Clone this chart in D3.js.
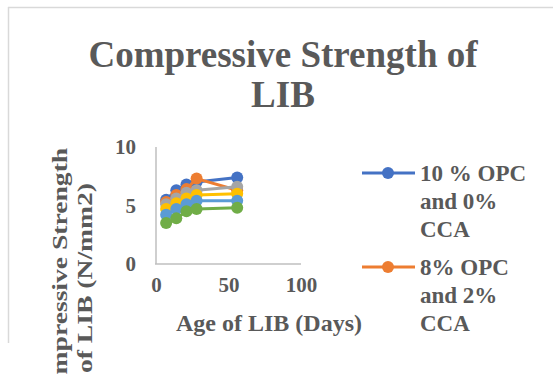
<!DOCTYPE html>
<html><head><meta charset="utf-8">
<script src="https://cdn.jsdelivr.net/npm/d3@7"></script>
<style>html,body{margin:0;padding:0;background:#fff;overflow:hidden}</style>
</head><body>
<svg id="c" width="553" height="375"></svg>
<script>
const days = [7, 14, 21, 28, 56];
const seriesNames = ["10 % OPC and 0% CCA", "8% OPC and 2% CCA", "6% OPC and 4% CCA", "4% OPC and 6% CCA", "2% OPC and 8% CCA", "0% OPC and 10% CCA"];
const s1 = [5.5, 6.3, 6.8, 7.0, 7.4];
const s2 = [5.3, 5.9, 6.4, 7.3, 6.3];
const s3 = [5.1, 5.6, 6.1, 6.3, 6.6];
const s4 = [4.7, 5.2, 5.6, 5.9, 6.0];
const s5 = [4.2, 4.7, 5.1, 5.4, 5.4];
const s6 = [3.5, 3.9, 4.5, 4.7, 4.8];
const seriesValues = [s1, s2, s3, s4, s5, s6];
const colors = ["#4472C4", "#ED7D31", "#A5A5A5", "#FFC000", "#5B9BD5", "#70AD47"];
const xTicks = [0, 50, 100];
const yTicks = [0, 5, 10];
const legendLines = [["10 % OPC", "and 0%", "CCA"], ["8% OPC", "and 2%", "CCA"]];

const svg = d3.select("#c");
const font = "'Liberation Serif','Times New Roman',serif";
const txt = "#595959";

// chart frame
svg.append("line").attr("x1", 8).attr("x2", 553).attr("y1", 7.5).attr("y2", 7.5).attr("stroke", "#d9d9d9").attr("stroke-width", 1.5);
svg.append("line").attr("x1", 8.5).attr("x2", 8.5).attr("y1", 7).attr("y2", 343).attr("stroke", "#d9d9d9").attr("stroke-width", 1.5);

// title
const title = svg.append("text").attr("font-family", font).attr("font-weight", "bold").attr("fill", txt)
  .attr("font-size", 37).attr("text-anchor", "middle");
title.append("tspan").attr("x", 283).attr("y", 67).text("Compressive Strength of");
title.append("tspan").attr("x", 283).attr("y", 107).text("LIB");

const x = d3.scaleLinear().domain([0, 100]).range([156, 301]);
const y = d3.scaleLinear().domain([0, 10]).range([264, 147]);

// axes
const xAxis = svg.append("g").attr("transform", "translate(0,264)")
  .call(d3.axisBottom(x).tickValues(xTicks).tickSize(0).tickPadding(13));
const yAxis = svg.append("g").attr("transform", "translate(156,0)")
  .call(d3.axisLeft(y).tickValues(yTicks).tickSize(0).tickPadding(20));
[xAxis, yAxis].forEach(g => {
  g.select(".domain").attr("stroke", "#bfbfbf").attr("stroke-width", 1.5);
  g.selectAll("text").attr("font-family", font).attr("font-weight", "bold").attr("font-size", 21).attr("fill", txt);
});
xAxis.select(".domain").attr("d", `M${x(0)-1},0H${x(100)}`);
yAxis.select(".domain").attr("d", `M0,${y(10)}V${y(0)}`);

// axis titles
svg.append("text").attr("font-family", font).attr("font-weight", "bold").attr("font-size", 24).attr("fill", txt)
  .attr("text-anchor", "middle").attr("x", 269).attr("y", 331).text("Age of LIB (Days)");
const yt = svg.append("text").attr("font-family", font).attr("font-weight", "bold").attr("font-size", 20).attr("fill", txt)
  .attr("text-anchor", "middle").attr("transform", "translate(0,278) rotate(-90) scale(1.38,1)");
yt.append("tspan").attr("x", 0).attr("y", 67).text("Compressive Strength");
yt.append("tspan").attr("x", 0).attr("y", 92).text("of LIB (N/mm2)");

// series
const line = d3.line().x((d, i) => x(days[i])).y(d => y(d));
seriesValues.forEach((vals, k) => {
  const g = svg.append("g");
  g.append("path").attr("d", line(vals)).attr("fill", "none").attr("stroke", colors[k]).attr("stroke-width", 3);
  g.selectAll("circle").data(vals).join("circle")
    .attr("cx", (d, i) => x(days[i])).attr("cy", d => y(d)).attr("r", 6).attr("fill", colors[k]);
});

// legend (only two entries visible)
legendLines.forEach((lines, k) => {
  const ly = 173 + k * 94;
  svg.append("line").attr("x1", 362).attr("x2", 415).attr("y1", ly).attr("y2", ly).attr("stroke", colors[k]).attr("stroke-width", 3);
  svg.append("circle").attr("cx", 388).attr("cy", ly).attr("r", 6).attr("fill", colors[k]);
  const t = svg.append("text").attr("font-family", font).attr("font-weight", "bold").attr("font-size", 23).attr("fill", txt);
  lines.forEach((s, j) => t.append("tspan").attr("x", 420).attr("y", ly + 8 + j * 28).text(s));
});
</script>
</body></html>
